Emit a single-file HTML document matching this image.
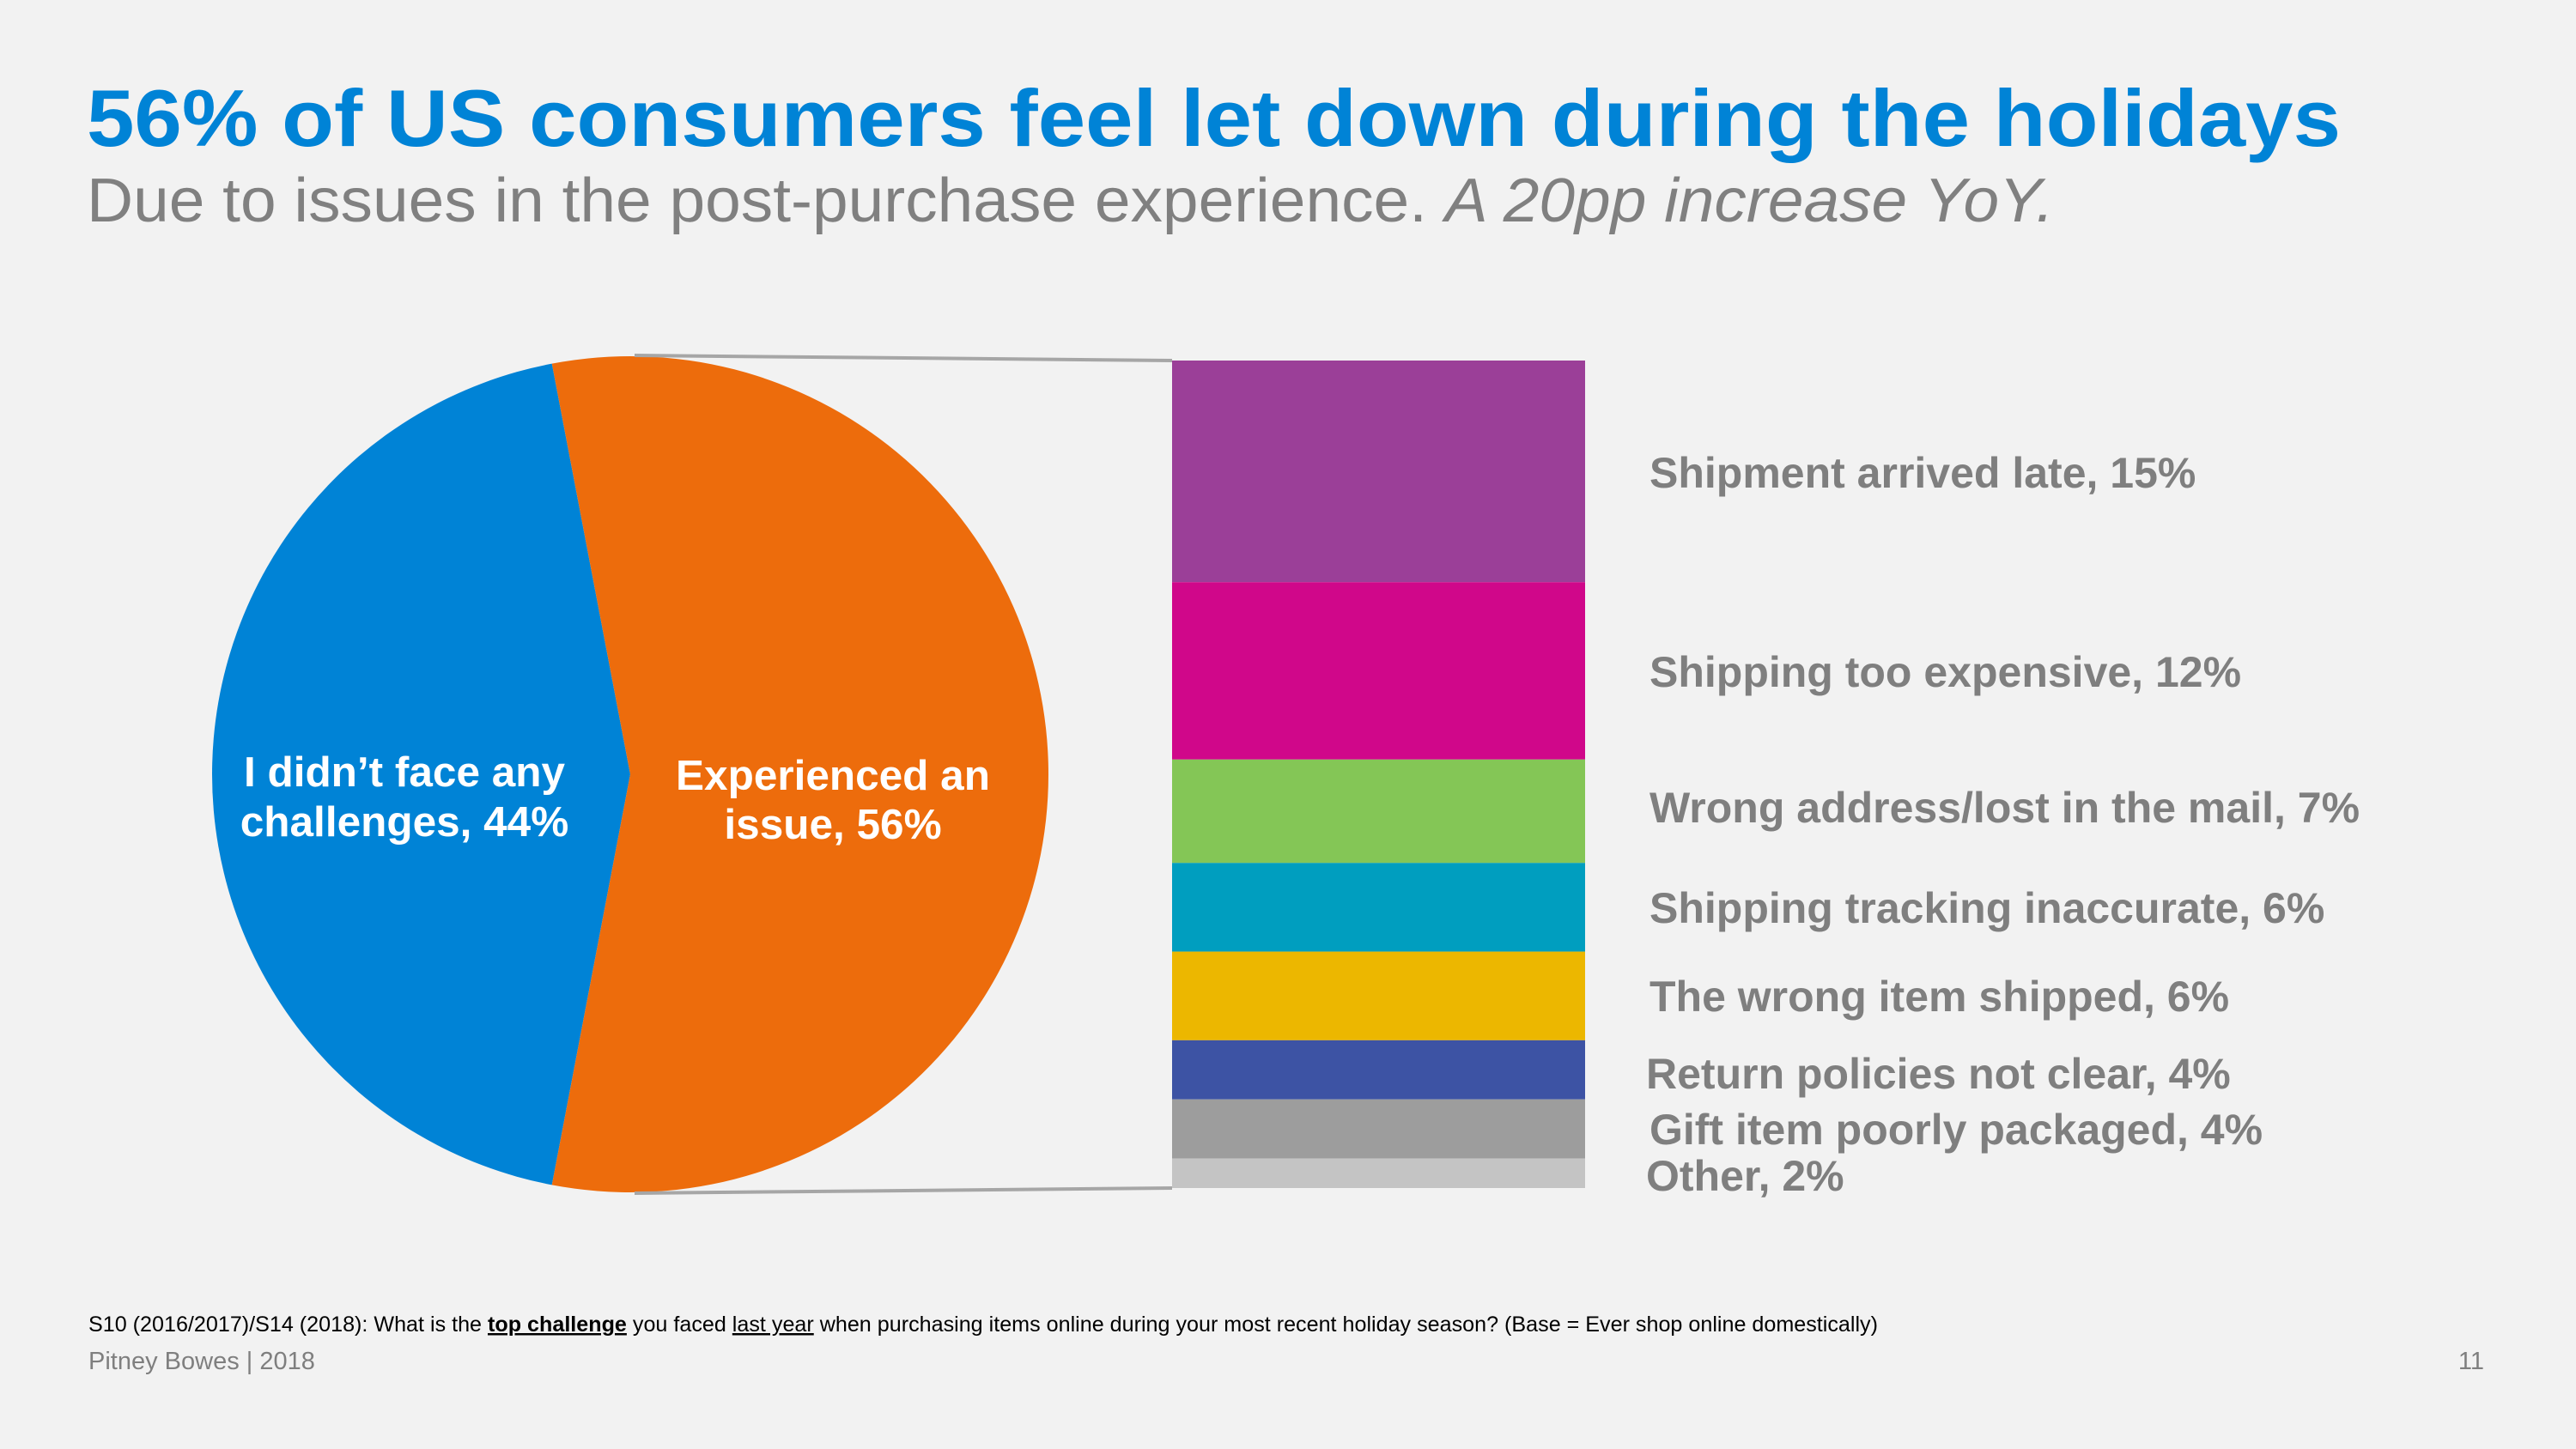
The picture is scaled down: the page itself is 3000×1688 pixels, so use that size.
<!DOCTYPE html>
<html><head><meta charset="utf-8"><style>
html,body{margin:0;padding:0;background:#f2f2f2;}
svg{display:block;font-family:"Liberation Sans",Arial,sans-serif;}
</style></head><body>
<svg id="chart" width="3000" height="1688" viewBox="0 0 3000 1688">
<rect x="0" y="0" width="3000" height="1688" fill="#f2f2f2"/>
<text x="101" y="170" font-size="94" font-weight="bold" fill="#0083d6" textLength="2625" lengthAdjust="spacingAndGlyphs">56% of US consumers feel let down during the holidays</text>
<text x="101" y="258" font-size="72" fill="#808080" textLength="2291" lengthAdjust="spacingAndGlyphs">Due to issues in the post-purchase experience. <tspan font-style="italic">A 20pp increase YoY.</tspan></text>
<g id="pie"></g>
<g id="bar"></g>
<g id="labels"></g>
<text x="103" y="1551" font-size="25" fill="#000" textLength="2084" lengthAdjust="spacingAndGlyphs">S10 (2016/2017)/S14 (2018): What is the <tspan font-weight="bold" text-decoration="underline">top challenge</tspan> you faced <tspan text-decoration="underline">last year</tspan> when purchasing items online during your most recent holiday season? (Base = Ever shop online domestically)</text>
<text x="103" y="1595" font-size="29" fill="#7f7f7f">Pitney Bowes | 2018</text>
<text x="2893" y="1595" font-size="29" fill="#7f7f7f" text-anchor="end">11</text>
</svg>
<script>
const pieCategories = ["I didn\u2019t face any challenges, 44%", "Experienced an issue, 56%"];
const pieValues = [44, 56];
const barCategories = ["Shipment arrived late, 15%","Shipping too expensive, 12%","Wrong address/lost in the mail, 7%","Shipping tracking inaccurate, 6%","The wrong item shipped, 6%","Return policies not clear, 4%","Gift item poorly packaged, 4%","Other, 2%"];
const barValues = [15, 12, 7, 6, 6, 4, 4, 2];
const pieColors = ["#0083d6", "#ed6c0c"];
const barColors = ["#9b3f98","#d0078a","#84c656","#009ebf","#ecb700","#3d53a4","#9d9d9d","#c4c4c4"];

const NS = "http://www.w3.org/2000/svg";
function mk(tag, attrs, parent){const e=document.createElementNS(NS,tag);for(const k in attrs)e.setAttribute(k,attrs[k]);parent.appendChild(e);return e;}

const cx=734, cy=902, r=487;
const pieG=document.getElementById('pie');
const total=pieValues.reduce((a,b)=>a+b,0);
const issueAng=pieValues[1]/total*2*Math.PI;
const startIssue=-issueAng/2;
const angles=[[startIssue+issueAng, startIssue+2*Math.PI],[startIssue, startIssue+issueAng]];
function pt(a,rr){return [cx+rr*Math.cos(a), cy+rr*Math.sin(a)];}
pieValues.forEach((v,i)=>{
  const [a0,a1]=angles[i];
  const p0=pt(a0,r), p1=pt(a1,r);
  const large=(a1-a0)>Math.PI?1:0;
  const path=mk('path',{d:`M${cx},${cy} L${p0[0]},${p0[1]} A${r},${r} 0 ${large} 1 ${p1[0]},${p1[1]} Z`,fill:pieColors[i]},pieG);
  
  
});
const pieLabelPos=[[471,[899,957]],[970,[903,960]]];
const pieLines=[["I didn\u2019t face any","challenges, "+pieValues[0]+"%"],["Experienced an","issue, "+pieValues[1]+"%"]];
pieLines.forEach((lines,i)=>{
  lines.forEach((ln,j)=>{
    const t=mk('text',{x:pieLabelPos[i][0],y:pieLabelPos[i][1][j]+17,'font-size':49.5,'font-weight':'bold',fill:'#fff','text-anchor':'middle'},pieG);
    t.textContent=ln;
    
    
  });
});

const bx=1365, bw=481, by0=420, bh=964;
const barTotal=barValues.reduce((a,b)=>a+b,0);
const yScale=v=>v/barTotal*bh;
const barG=document.getElementById('bar');
const labG=document.getElementById('labels');
const c1=mk('line',{x1:739,y1:414,x2:bx,y2:by0,stroke:'#a6a6a6','stroke-width':4},barG);


const c2=mk('line',{x1:739,y1:1390,x2:bx,y2:by0+bh,stroke:'#a6a6a6','stroke-width':4},barG);


const labelY=[551,783,941,1058,1161,1251,1316,1370];
const labelX=[1921,1921,1921,1921,1921,1917,1921,1917];
let y=by0;
barValues.forEach((v,i)=>{
  const h=yScale(v);
  const rc=mk('rect',{x:bx,y:y,width:bw,height:h,fill:barColors[i]},barG);
  
  
  y+=h;
  const t=mk('text',{x:labelX[i],y:labelY[i]+17,'font-size':50,'font-weight':'bold',fill:'#7f7f7f'},labG);
  t.textContent=barCategories[i];
  
  
});
</script>
</body></html>
